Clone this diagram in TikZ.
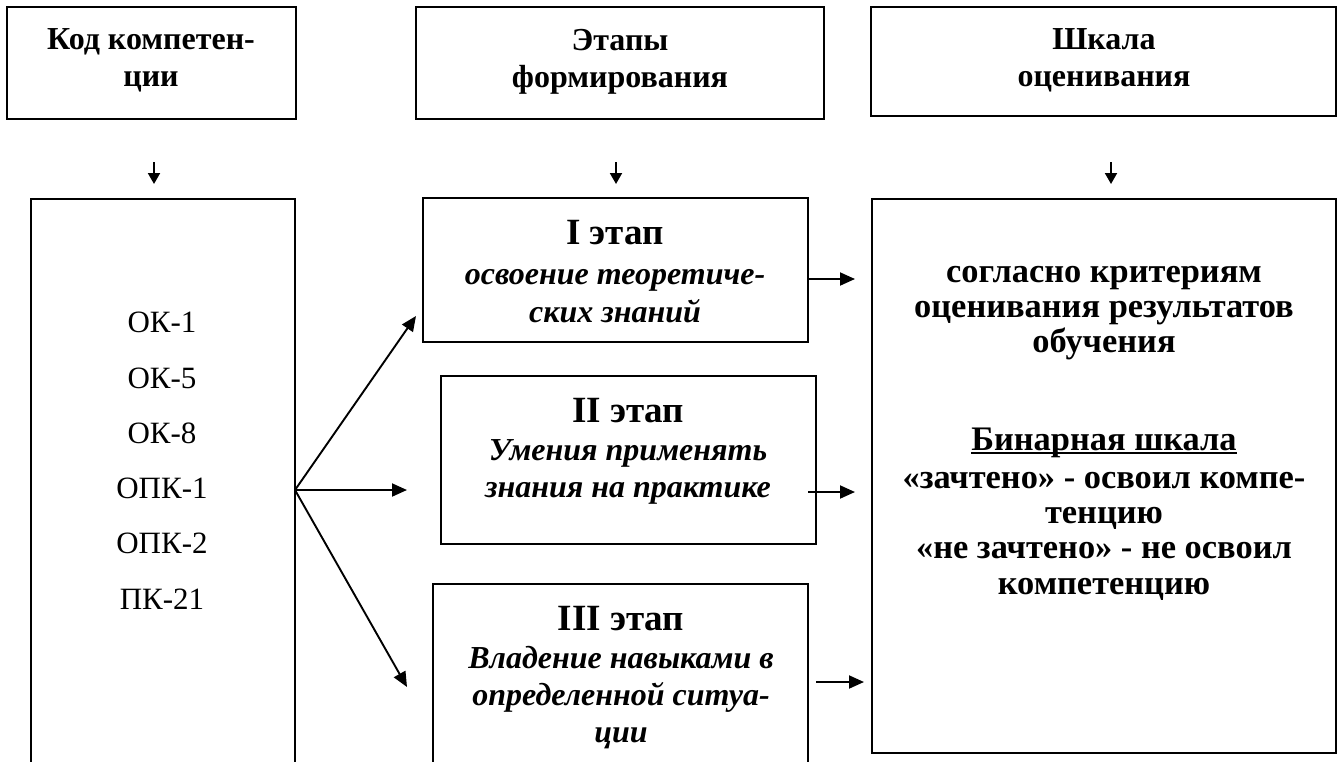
\documentclass[tikz,border=0pt]{standalone}
\usepackage{fontspec}
\setmainfont{Liberation Serif}
\usetikzlibrary{arrows.meta,fit}
\newcommand\myul[1]{\setbox0\hbox{#1}\rlap{\rule[-2pt]{\wd0}{0.9pt}}\box0}
\begin{document}
\begin{tikzpicture}[x=0.5pt,y=-0.5pt,
  box/.style={draw, line width=0.8pt, inner sep=0pt, outer sep=0pt},
  hdr/.style={font=\fontsize{16}{18}\selectfont\bfseries, inner sep=0pt, anchor=base},
  lft/.style={font=\fontsize{15.5}{17}\selectfont, inner sep=0pt, anchor=base},
  ttl/.style={font=\fontsize{18.5}{20}\selectfont\bfseries, inner sep=0pt, anchor=base},
  itl/.style={font=\fontsize{16}{18}\selectfont\bfseries\itshape, inner sep=0pt, anchor=base},
  rgt/.style={font=\fontsize{17.2}{19}\selectfont\bfseries, inner sep=0pt, anchor=base},
  arr/.style={line width=0.95pt, -{Triangle[length=7.5pt,width=6.5pt]}},
  darr/.style={line width=0.95pt, -{Triangle[length=5.5pt,width=6pt]}}]
\useasboundingbox (0,0) rectangle (1344,761);
\clip (0,0) rectangle (1344,761);
% header boxes
\node[box, fit={(7,7) (296,119)}] (h1) {};
\node[box, fit={(416,7) (824,119)}] (h2) {};
\node[box, fit={(871,7) (1336,116)}] (h3) {};
\node[hdr] (h1a) at (151,49) {Код компетен-};
\node[hdr] (h1b) at (151,86) {ции};
\node[hdr] (h2a) at (620,50) {Этапы};
\node[hdr] (h2b) at (620,87) {формирования};
\node[hdr] (h3a) at (1104,49) {Шкала};
\node[hdr] (h3b) at (1104,86) {оценивания};
% left box
\node[box, fit={(31,199) (295,800)}] (kod) {};
\foreach \t/\y [count=\i] in {ОК-1/332,ОК-5/388,ОК-8/443,ОПК-1/498,ОПК-2/553,ПК-21/609}
  \node[lft] (k\i) at (162,\y) {\t};
% stage boxes
\node[box, fit={(423,198) (808,342)}] (b1) {};
\node[box, fit={(441,376) (816,544)}] (b2) {};
\node[box, fit={(433,584) (808,800)}] (b3) {};
\node[ttl] (b1t) at (615,244) {I этап};
\node[itl] (b1a) at (615,284) {освоение теоретиче-};
\node[itl] (b1b) at (615,322) {ских знаний};
\node[ttl] (b2t) at (628,422) {II этап};
\node[itl] (b2a) at (628,460) {Умения применять};
\node[itl] (b2b) at (628,497) {знания на практике};
\node[ttl] (b3t) at (621,630) {III этап};
\node[itl] (b3a) at (621,668) {Владение навыками в};
\node[itl] (b3b) at (621,705) {определенной ситуа-};
\node[itl] (b3c) at (621,742) {ции};
% right box
\node[box, fit={(872,199) (1336,753)}] (sc) {};
\node[rgt] (s1) at (1104,282) {согласно критериям};
\node[rgt] (s2) at (1104,317) {оценивания результатов};
\node[rgt] (s3) at (1104,352) {обучения};
\node[rgt] (s4) at (1104,450) {\myul{Бинарная шкала}};
\node[rgt] (s5) at (1104,488) {«зачтено» - освоил компе-};
\node[rgt] (s6) at (1104,523) {тенцию};
\node[rgt] (s7) at (1104,558) {«не зачтено» - не освоил};
\node[rgt] (s8) at (1104,594) {компетенцию};
% down arrows
\coordinate (d1s) at (154,162); \coordinate (d1e) at (154,184);
\coordinate (d2s) at (616,162); \coordinate (d2e) at (616,184);
\coordinate (d3s) at (1111,162); \coordinate (d3e) at (1111,184);
\draw[darr] (d1s) -- (d1e);
\draw[darr] (d2s) -- (d2e);
\draw[darr] (d3s) -- (d3e);
% fan arrows
\coordinate (fan) at (295,490);
\coordinate (t1) at (416,316);
\coordinate (t2) at (407,490);
\coordinate (t3) at (407,687);
\draw[arr] (fan) -- (t1);
\draw[arr] (fan) -- (t2);
\draw[arr] (fan) -- (t3);
% right arrows
\coordinate (r1s) at (808,279); \coordinate (r1e) at (855,279);
\coordinate (r2s) at (808,492); \coordinate (r2e) at (855,492);
\coordinate (r3s) at (816,682); \coordinate (r3e) at (864,682);
\draw[arr] (r1s) -- (r1e);
\draw[arr] (r2s) -- (r2e);
\draw[arr] (r3s) -- (r3e);
\end{tikzpicture}
\end{document}
